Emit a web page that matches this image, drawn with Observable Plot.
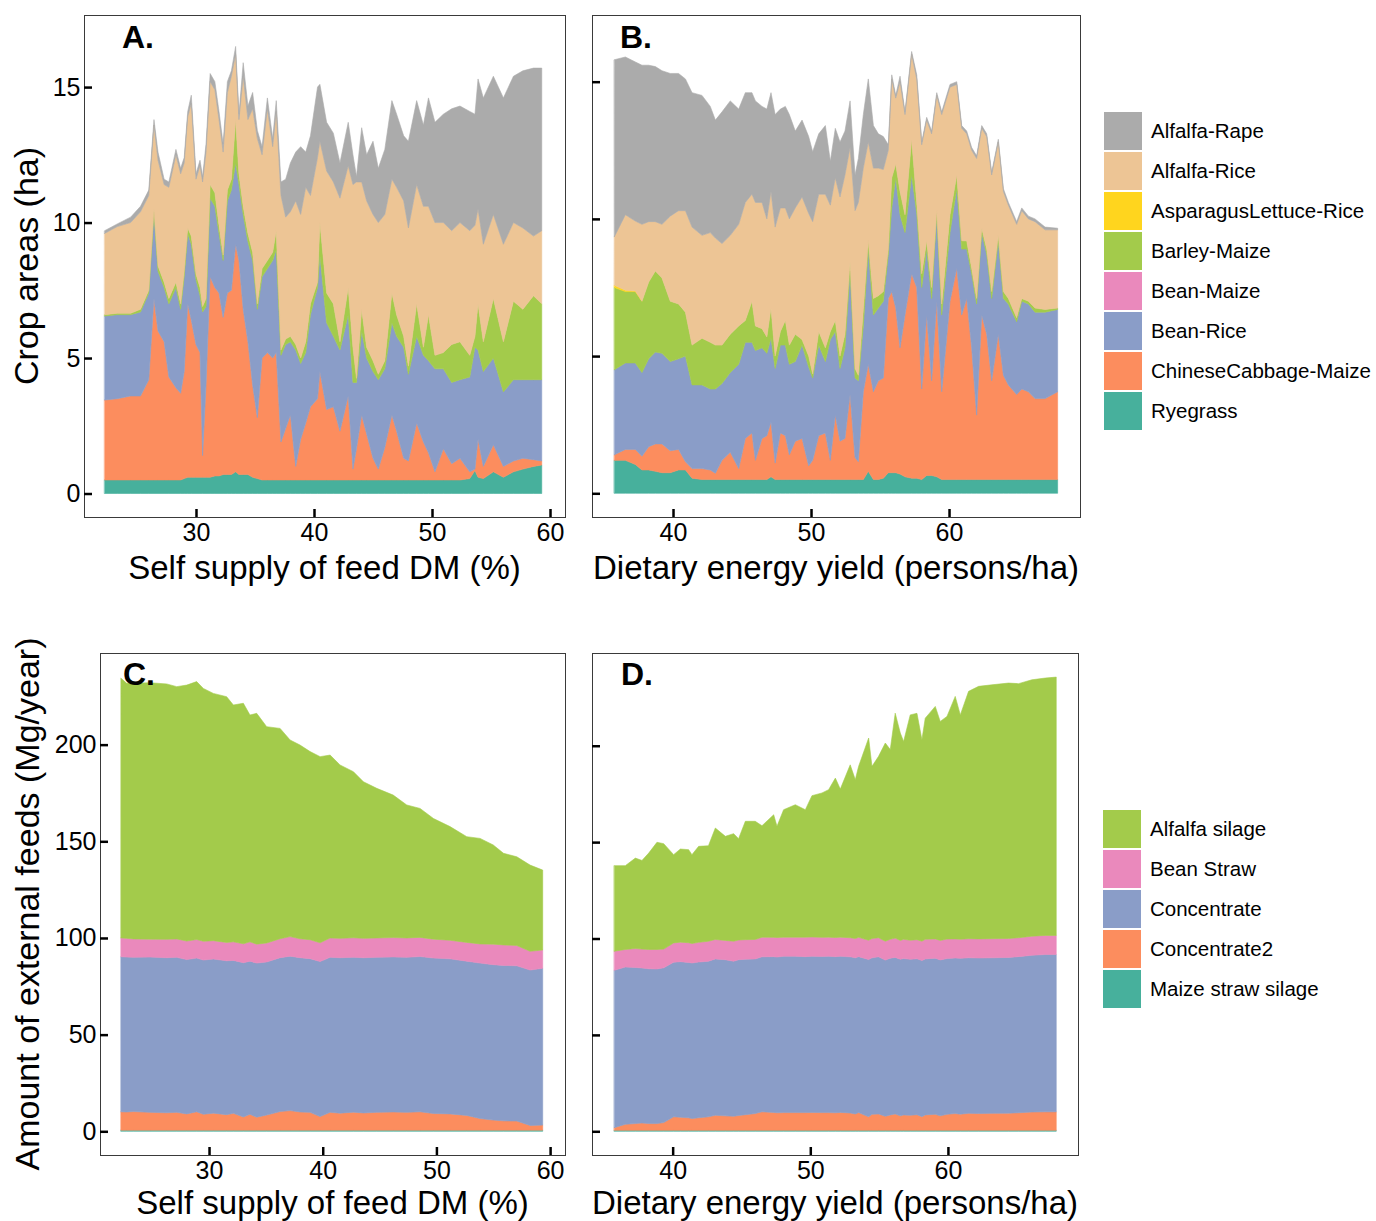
<!DOCTYPE html>
<html><head><meta charset="utf-8">
<script src="https://cdn.jsdelivr.net/npm/d3@7"></script>
<script src="https://cdn.jsdelivr.net/npm/@observablehq/plot@0.6"></script>
<style>
html,body{margin:0;padding:0;background:#fff;overflow:hidden}
#root{position:relative;width:1376px;height:1221px;font-family:"Liberation Sans",Arial,sans-serif;background:#fff}
#root svg{position:absolute;left:0;top:0}
.legend{position:absolute}
.item{display:flex;align-items:center;height:38px;margin-bottom:2px}
.sw{width:38px;height:38px;margin-right:9px;flex:none}
.lab{font-size:20.5px;color:#000;white-space:nowrap}
</style></head><body><div id="root"></div>
<script>
// ---------------- Crop names, colours (legend order) ----------------
const cropNames = ["Alfalfa-Rape","Alfalfa-Rice","AsparagusLettuce-Rice","Barley-Maize","Bean-Maize","Bean-Rice","ChineseCabbage-Maize","Ryegrass"];
const cropColors = ["#ABABAB","#EDC595","#FFD51E","#A3CB4B","#EA89BC","#8A9DC8","#FC8D5E","#47B09C"];
const feedNames = ["Alfalfa silage","Bean Straw","Concentrate","Concentrate2","Maize straw silage"];
const feedColors = ["#A3CB4B","#EA89BC","#8A9DC8","#FC8D5E","#47B09C"];

// ---------------- Panel A: crop areas (ha) vs self supply of feed DM (%) ----------------
const A_x = [22.26,23.33,24.46,25.3,26.0,26.44,26.78,27.3,27.7,28.3,28.7,29.0,29.3,29.6,30.0,30.34,30.56,30.85,31.2,31.6,31.95,32.3,32.66,33.0,33.36,33.64,34.0,34.4,34.8,35.2,35.6,36.05,36.5,36.8,37.2,37.6,38.0,38.45,38.87,39.3,39.7,40.3,40.5,41.07,41.64,42.2,42.9,43.3,43.6,44.04,44.46,45.0,45.45,46.0,46.6,47.0,47.6,48.0,48.7,49.27,49.7,50.25,50.96,51.67,52.37,53.2,53.64,53.9,54.35,55.2,56.05,56.9,57.7,58.6,59.3];
const A_ryegrass = [0.5,0.5,0.5,0.5,0.5,0.5,0.5,0.5,0.5,0.5,0.5,0.55,0.6,0.6,0.6,0.6,0.6,0.6,0.6,0.65,0.65,0.7,0.7,0.7,0.8,0.7,0.7,0.7,0.6,0.55,0.5,0.5,0.5,0.5,0.5,0.5,0.5,0.5,0.5,0.5,0.5,0.5,0.5,0.5,0.5,0.5,0.5,0.5,0.5,0.5,0.5,0.5,0.5,0.5,0.5,0.5,0.5,0.5,0.5,0.5,0.5,0.5,0.5,0.5,0.5,0.55,0.85,0.6,0.55,0.8,0.6,0.8,0.9,1.0,1.05];
const A_cabbage = [2.95,3.0,3.1,3.1,3.7,6.7,5.5,5.1,3.8,3.4,3.2,3.95,6.4,5.8,4.9,4.6,0.8,3.4,7.4,6.95,6.75,5.8,6.7,6.8,8.4,7.9,6.1,4.9,3.4,2.25,4.5,4.7,4.5,4.7,1.4,1.9,2.4,0.5,1.5,2.1,2.7,3.0,4.0,2.6,2.7,1.8,3.1,0.4,1.15,2.4,1.7,0.8,0.4,1.2,2.4,1.8,0.8,0.7,2.1,1.4,1.0,0.3,1.15,0.6,0.8,0.25,0.05,1.4,0.45,1.0,0.4,0.4,0.4,0.25,0.15];
const A_beanRice = [3.1,3.1,3.0,3.1,3.2,3.2,2.2,2.0,2.7,3.7,3.1,3.5,2.6,2.8,2.4,2.1,5.3,2.9,2.9,3.0,2.2,2.1,3.4,3.7,3.0,2.8,3.5,3.7,4.6,4.0,3.0,3.1,3.6,3.8,3.2,3.1,2.7,4.3,2.8,2.6,3.4,4.1,4.3,3.2,2.6,3.0,3.0,3.2,2.45,3.1,2.8,3.2,3.3,2.9,3.4,3.5,4.1,3.2,3.2,3.2,3.4,3.8,2.95,3.0,2.9,3.5,4.5,3.3,3.5,3.2,2.75,3.0,2.9,2.95,3.0];
const A_barley = [0.05,0.05,0.05,0.1,0.1,0.1,0.2,0.2,0.2,0.2,0.2,0.2,0.2,0.3,0.2,0.3,0.2,0.3,0.5,0.5,0.3,0.2,0.4,0.4,1.6,0.4,0.3,0.3,0.3,0.2,0.3,0.3,0.3,0.7,0.2,0.2,0.2,0.2,0.2,0.4,0.4,0.2,1.2,1.1,1.2,0.3,1.0,1.3,0.15,0.8,0.4,0.4,0.2,0.3,1.1,0.8,0.4,0.3,1.2,0.3,1.7,0.5,0.6,1.4,1.4,0.8,0.4,1.7,1.1,2.2,1.85,2.9,2.6,3.1,2.8];
const A_alfRice = [3.0,3.2,3.35,3.6,3.5,3.1,3.9,3.6,4.1,4.7,4.8,4.0,4.1,4.9,3.5,4.5,4.6,5.4,3.8,3.8,3.9,3.8,3.6,3.8,2.4,2.0,4.8,4.2,5.3,6.1,4.2,5.6,3.9,4.4,5.7,4.5,4.6,5.3,5.3,5.7,4.0,4.6,3.0,4.5,4.5,5.3,4.5,6.0,7.25,4.7,5.4,5.4,5.6,5.4,4.2,4.7,5.0,5.1,4.4,5.2,4.0,4.9,4.8,4.2,4.4,4.6,4.1,3.5,3.6,3.1,3.6,2.9,3.0,2.2,2.7];
const A_alfRape = [0.1,0.1,0.2,0.2,0.2,0.2,0.3,0.2,0.2,0.2,0.2,0.2,0.2,0.3,0.2,0.2,0.2,0.3,0.3,0.3,0.3,0.3,0.4,0.2,0.3,0.2,0.5,0.5,0.6,0.3,0.3,0.4,0.3,0.4,0.5,1.4,1.8,1.8,2.5,1.3,2.2,2.6,2.1,1.8,1.8,1.3,1.6,1.1,0.2,2.0,1.7,2.7,2.0,2.4,2.9,2.7,2.4,3.2,3.1,3.0,4.0,3.7,4.0,4.5,4.3,4.4,4.1,4.8,5.4,5.1,5.4,5.4,5.8,6.2,6.0];

// ---------------- Panel B: crop areas (ha) vs dietary energy yield (persons/ha) ----------------
const B_x = [35.75,36.55,37.27,37.75,38.24,38.72,39.2,39.8,40.4,40.9,41.38,42.1,42.7,43.07,43.55,44.15,44.76,45.24,45.72,45.97,46.45,46.8,47.1,47.4,47.78,48.14,48.43,48.86,49.35,49.83,50.12,50.56,51.04,51.4,51.76,52.1,52.46,52.83,53.19,53.43,53.79,54.15,54.52,54.88,55.24,55.6,55.85,56.14,56.45,56.81,57.29,57.66,58.02,58.38,58.74,59.11,59.47,60.07,60.56,60.92,61.28,61.64,62.0,62.37,62.73,63.09,63.57,63.94,64.3,64.9,65.27,65.75,66.23,66.96,67.87];
const B_ryegrass = [1.2,1.2,1.05,0.85,0.85,0.8,0.75,0.75,0.85,0.85,0.55,0.5,0.5,0.5,0.5,0.5,0.5,0.5,0.5,0.5,0.5,0.5,0.6,0.5,0.5,0.5,0.5,0.5,0.5,0.5,0.5,0.5,0.5,0.5,0.5,0.5,0.5,0.5,0.5,0.5,0.5,0.8,0.5,0.5,0.55,0.75,0.75,0.75,0.7,0.6,0.55,0.55,0.5,0.65,0.65,0.6,0.5,0.5,0.5,0.5,0.5,0.5,0.5,0.5,0.5,0.5,0.5,0.5,0.5,0.5,0.5,0.5,0.5,0.5,0.5];
const B_cabbage = [0.2,0.4,0.55,0.5,0.85,1.0,1.05,0.8,0.75,0.3,0.35,0.4,0.35,0.23,0.7,1.0,0.4,1.5,1.7,0.7,1.5,1.6,2.0,0.6,1.7,1.6,0.9,1.4,1.5,0.5,0.7,1.6,1.7,0.7,2.35,1.4,1.5,3.1,0.8,0.65,3.2,3.9,3.2,3.6,3.65,6.35,6.6,6.0,4.6,5.9,7.45,6.95,3.3,5.85,3.45,6.4,3.2,6.5,7.7,6.0,6.6,4.8,2.35,6.0,5.3,3.6,5.3,3.8,3.45,3.1,3.3,3.2,2.95,2.95,3.2];
const B_beanRice = [3.1,3.15,3.15,3.05,3.2,3.35,3.3,3.25,3.3,3.85,3.05,3.05,2.95,3.07,2.8,2.9,3.8,3.5,3.3,4.0,3.3,3.0,3.05,3.45,3.2,3.3,3.3,2.9,3.4,3.6,3.0,3.3,2.6,4.4,3.05,2.65,3.3,4.5,2.9,2.95,2.4,4.2,2.8,2.65,2.8,1.6,3.05,4.75,4.85,3.0,3.6,2.7,3.7,2.4,3.0,3.15,2.8,2.5,2.9,2.4,1.8,2.7,4.05,3.0,2.9,3.0,3.4,2.8,2.95,2.65,3.2,3.2,3.15,3.15,3.0];
const B_barley = [3.0,2.6,2.6,2.6,2.8,2.95,2.75,2.2,2.0,1.6,1.45,1.7,1.7,1.6,1.4,1.4,1.4,0.8,1.5,0.9,0.7,0.6,1.1,0.45,0.5,0.9,0.7,1.0,0.2,0.4,0.15,0.5,0.5,0.3,0.4,0.45,0.5,0.35,0.35,0.2,0.6,0.3,0.6,0.45,0.35,0.2,1.1,0.5,0.85,0.65,1.3,0.4,0.5,0.3,0.4,0.15,0.4,0.65,0.5,0.3,0.3,0.2,0.2,0.16,0.2,0.25,0.2,0.25,0.2,0.15,0.1,0.1,0.15,0.1,0.05];
const B_asparagus_x = [35.75,36.55,37.27,37.75];
const B_asparagus = [0.08,0.05,0.02,0];
const B_alfRice = [1.77,2.75,2.55,2.8,2.2,1.8,1.95,3.1,3.4,3.7,4.3,3.75,4.0,3.9,3.7,3.6,3.7,4.3,3.9,4.5,4.6,4.3,4.25,4.7,4.5,4.1,4.6,4.6,5.2,5.2,5.55,5.0,5.6,4.6,5.2,5.8,5.8,4.15,5.75,6.3,5.15,3.6,4.75,4.65,4.45,3.6,3.6,2.4,4.0,3.65,3.1,4.5,4.7,4.4,5.6,4.2,6.9,4.65,3.3,4.1,3.9,4.3,5.1,3.64,4.1,4.25,3.4,3.65,3.4,3.4,3.2,3.0,3.15,2.9,2.85];
const B_alfRape = [6.45,5.75,5.8,5.8,5.7,5.65,5.6,5.2,5.0,4.8,4.9,5.1,4.6,4.3,4.8,4.9,4.2,4.0,3.7,3.7,3.5,4.0,3.6,4.1,3.6,3.7,3.8,2.8,2.8,2.8,2.55,2.2,2.5,1.6,1.8,2.0,1.6,1.7,1.3,1.6,1.95,2.3,1.55,1.25,1.2,0.2,0.15,0.1,0.2,0.1,0.1,0.15,0.1,0.1,0.1,0.1,0.1,0.1,0.1,0.1,0.1,0.1,0.1,0.1,0.1,0.1,0.1,0.1,0.1,0.1,0.1,0.1,0.1,0.1,0.06];

// ---------------- Panel C: external feeds (Mg/year) vs self supply of feed DM (%) ----------------
const C_x = [22.26,22.76,23.34,24.81,26.28,27.16,28.04,28.91,29.5,30.38,31.55,32.14,33.02,33.6,34.19,35.07,36.25,37.13,38.0,38.89,39.77,40.65,41.52,42.7,43.58,44.75,46.2,47.39,48.56,49.74,51.2,52.67,53.84,55.0,55.9,57.07,58.24,59.35];
const C_maizeStraw = [0.6,0.6,0.6,0.6,0.6,0.6,0.6,0.6,0.6,0.6,0.6,0.6,0.6,0.6,0.6,0.6,0.6,0.6,0.6,0.6,0.6,0.6,0.6,0.6,0.6,0.6,0.6,0.6,0.6,0.6,0.6,0.6,0.6,0.6,0.6,0.6,0.6,0.6];
const C_conc2 = [9.5,9.4,9.6,9.2,9.0,9.2,8.4,9.5,8.2,8.8,8.0,8.7,6.8,8.2,6.7,7.8,9.6,10.1,9.4,9.2,7.0,9.2,8.8,9.3,8.9,9.2,9.4,9.2,9.5,8.6,8.4,7.6,6.0,5.2,4.8,4.7,2.4,2.6];
const C_conc = [80.2,80.1,79.8,80.3,80.2,80.2,79.8,79.5,79.8,79.7,79.6,79.1,79.8,79.2,79.7,79.2,79.6,79.9,79.8,79.5,80.2,80.2,80.4,80.1,80.3,80.2,80.2,80.2,80.3,80.4,80.2,79.8,80.4,80.4,80.4,80.3,80.4,81.1];
const C_beanStraw = [9.7,9.7,9.5,9.3,9.5,9.5,9.6,9.6,9.7,9.5,9.5,9.6,9.8,10.0,9.8,9.8,9.8,10.1,9.8,9.8,9.7,10.0,10.0,10.1,10.0,10.0,10.0,10.0,9.9,9.8,9.6,9.7,9.9,10.6,10.6,10.5,9.7,9.5];
const C_alfSilage = [134.3,131.9,132.3,132.6,132.1,130.5,132.4,133.4,130.8,127.9,127.1,122.5,124.4,117.3,119.4,111.9,108.8,101.7,100.2,97.3,96.3,94.6,89.7,85.9,81.0,77.4,73.7,68.8,66.7,62.4,58.8,54.7,54.6,51.3,47.4,45.9,44.6,41.3];

// ---------------- Panel D: external feeds (Mg/year) vs dietary energy yield (persons/ha) ----------------
const D_x = [35.76,36.56,37.29,37.77,38.26,38.86,39.35,40.07,40.56,41.16,41.4,41.89,42.6,43.1,43.83,44.43,44.79,45.28,46.0,46.49,47.34,47.58,48.06,48.91,49.64,50.12,50.85,51.33,51.82,52.18,52.9,53.27,53.51,54.24,54.48,54.96,55.45,55.81,56.17,56.54,56.78,57.26,57.75,58.11,58.35,59.08,59.44,59.93,60.53,60.9,61.5,62.23,63.2,64.4,65.13,66.1,67.07,67.87];
const D_maizeStraw = [0.5,0.5,0.5,0.5,0.5,0.5,0.5,0.5,0.5,0.5,0.5,0.5,0.5,0.5,0.5,0.5,0.5,0.5,0.5,0.5,0.5,0.5,0.5,0.5,0.5,0.5,0.5,0.5,0.5,0.5,0.5,0.5,0.5,0.5,0.5,0.5,0.5,0.5,0.5,0.5,0.5,0.5,0.5,0.5,0.5,0.5,0.5,0.5,0.5,0.5,0.5,0.5,0.5,0.5,0.5,0.5,0.5,0.5];
const D_conc2 = [1.4,3.1,3.5,3.8,3.5,3.5,4.0,7.0,6.8,6.5,6.1,6.5,7.0,7.8,7.5,7.3,7.7,8.1,8.7,9.6,9.3,9.1,9.2,9.2,9.2,9.3,9.2,9.2,9.1,9.3,9.0,8.5,9.2,7.0,8.3,8.5,7.3,8.0,8.5,7.5,8.0,7.8,8.1,7.1,8.0,8.3,7.5,8.3,8.7,8.4,8.8,8.7,8.8,8.9,9.1,9.5,9.6,9.6];
const D_conc = [81.6,81.6,81.0,80.4,80.3,80.2,80.3,80.2,80.7,80.6,80.7,80.8,80.7,81.1,81.0,80.4,80.8,80.7,80.2,80.4,80.8,80.8,81.1,81.1,80.9,81.0,81.0,81.1,81.0,81.0,81.0,81.0,80.9,81.6,81.2,81.5,81.0,81.3,81.2,81.2,81.1,80.9,80.9,81.0,80.9,81.0,80.9,80.8,80.7,80.8,80.7,80.7,80.7,80.8,81.0,81.3,81.6,81.6];
const D_beanStraw = [9.9,9.1,9.8,9.8,10.0,10.1,9.7,10.0,10.1,10.2,10.1,10.2,10.4,10.1,10.0,10.4,10.2,10.1,10.1,10.2,10.0,10.1,9.9,9.9,10.1,10.0,9.9,9.9,9.9,9.9,9.9,10.0,10.0,10.0,10.0,9.9,9.8,9.8,10.0,9.8,10.0,9.9,9.9,10.0,10.2,10.0,10.1,10.1,9.9,9.9,9.9,9.9,9.9,9.8,9.8,9.9,9.9,9.9];
const D_alfSilage = [44.4,43.5,46.9,46.0,50.0,55.6,54.7,45.8,48.3,48.3,46.1,49.8,49.5,57.8,54.0,55.8,52.6,61.4,61.3,57.8,63.6,57.7,66.1,68.7,66.1,73.3,74.9,76.5,82.7,76.8,89.7,82.4,88.7,104.9,89.3,94.1,102.8,98.4,116.7,107.6,102.6,116.9,117.4,104.5,114.7,120.6,113.6,115.5,125.8,116.4,128.3,131.0,131.7,132.5,131.8,133.0,133.5,134.0];

// ---------------- Tick values and labels ----------------
const ticksSelfSupply = [30,40,50,60];
const ticksEnergy = [40,50,60];
const ticksCrop = [0,5,10,15];
const ticksFeed = [0,50,100,150,200];
const titleSelf = "Self supply of feed DM (%)";
const titleEnergy = "Dietary energy yield (persons/ha)";
const titleCrop = "Crop areas (ha)";
const titleFeed = "Amount of external feeds (Mg/year)";

// stacking order bottom -> top (reverse of legend order)
const cropStack = cropNames.slice().reverse();
const feedStack = feedNames.slice().reverse();

function table(list) {
  const out = [];
  for (const [name, xs, vals] of list) vals.forEach((v, i) => out.push({x: xs[i], k: name, v}));
  return out;
}

const FONT = '"Liberation Sans", Arial, Helvetica, sans-serif';
const W = 1376, H = 1221;

function panel({data, order, names, colors, frame, xDomain, yDomain, xTicks, yTicks, yLabels}) {
  const [l, t, r, b] = frame;
  return Plot.plot({
    width: W, height: H,
    marginLeft: l, marginTop: t, marginRight: W - r, marginBottom: H - b,
    style: {background: "transparent", fontFamily: FONT, fontSize: "25px", color: "#000", overflow: "visible"},
    x: {domain: xDomain},
    y: {domain: yDomain},
    color: {domain: names, range: colors},
    marks: [
      Plot.areaY(data, {x: "x", y: "v", fill: "k", stroke: "k", strokeWidth: 0.6, order}),
      Plot.frame({stroke: "#3a3a3a", strokeWidth: 1}),
      Plot.axisX({ticks: xTicks, tickSize: -8, tickPadding: 14, strokeWidth: 2.5, label: null, tickFormat: d => String(d)}),
      Plot.axisY({ticks: yTicks, tickSize: -8, tickPadding: 12, strokeWidth: 2.5, label: null, tickFormat: yLabels ? (d => String(d)) : (() => "")})
    ]
  });
}

const root = document.getElementById("root");

const dataA = table([
  ["Ryegrass", A_x, A_ryegrass], ["ChineseCabbage-Maize", A_x, A_cabbage], ["Bean-Rice", A_x, A_beanRice],
  ["Barley-Maize", A_x, A_barley], ["Alfalfa-Rice", A_x, A_alfRice], ["Alfalfa-Rape", A_x, A_alfRape]
]);
const dataB = table([
  ["Ryegrass", B_x, B_ryegrass], ["ChineseCabbage-Maize", B_x, B_cabbage], ["Bean-Rice", B_x, B_beanRice],
  ["Barley-Maize", B_x, B_barley], ["AsparagusLettuce-Rice", B_asparagus_x, B_asparagus],
  ["Alfalfa-Rice", B_x, B_alfRice], ["Alfalfa-Rape", B_x, B_alfRape]
]);
const dataC = table([
  ["Maize straw silage", C_x, C_maizeStraw], ["Concentrate2", C_x, C_conc2], ["Concentrate", C_x, C_conc],
  ["Bean Straw", C_x, C_beanStraw], ["Alfalfa silage", C_x, C_alfSilage]
]);
const dataD = table([
  ["Maize straw silage", D_x, D_maizeStraw], ["Concentrate2", D_x, D_conc2], ["Concentrate", D_x, D_conc],
  ["Bean Straw", D_x, D_beanStraw], ["Alfalfa silage", D_x, D_alfSilage]
]);

root.append(panel({data: dataA, order: cropStack, names: cropNames, colors: cropColors, frame: [84, 15, 565, 517],
  xDomain: [20.51, 61.27], yDomain: [-0.867, 17.66], xTicks: ticksSelfSupply, yTicks: ticksCrop, yLabels: true}));
root.append(panel({data: dataB, order: cropStack, names: cropNames, colors: cropColors, frame: [592, 15, 1080, 517],
  xDomain: [34.13, 69.49], yDomain: [-0.864, 17.43], xTicks: ticksEnergy, yTicks: ticksCrop, yLabels: false}));
root.append(panel({data: dataC, order: feedStack, names: feedNames, colors: feedColors, frame: [100, 653, 565, 1155],
  xDomain: [20.41, 61.31], yDomain: [-12.26, 247.4], xTicks: ticksSelfSupply, yTicks: ticksFeed, yLabels: true}));
root.append(panel({data: dataD, order: feedStack, names: feedNames, colors: feedColors, frame: [592, 653, 1078, 1155],
  xDomain: [34.14, 69.45], yDomain: [-12.3, 248.1], xTicks: ticksEnergy, yTicks: ticksFeed, yLabels: false}));

// ---------------- Titles and panel letters ----------------
const ov = d3.select(root).append("svg").attr("width", W).attr("height", H)
  .style("font-family", FONT).style("pointer-events", "none");
function label(x, y, s, size, opts = {}) {
  const t = ov.append("text").attr("x", x).attr("y", y).attr("font-size", size).attr("fill", "#000").text(s);
  if (opts.anchor) t.attr("text-anchor", opts.anchor);
  if (opts.bold) t.attr("font-weight", "bold");
  if (opts.rotate) t.attr("transform", `rotate(-90 ${x} ${y})`);
  return t;
}
label(122, 48, "A.", 32, {bold: true});
label(620, 48, "B.", 32, {bold: true});
label(123, 685, "C.", 32, {bold: true});
label(621, 685, "D.", 32, {bold: true});
label(324.5, 579, titleSelf, 33, {anchor: "middle"});
label(836, 579, titleEnergy, 33, {anchor: "middle"});
label(332.5, 1214, titleSelf, 33, {anchor: "middle"});
label(835, 1214, titleEnergy, 33, {anchor: "middle"});
label(38, 266, titleCrop, 34, {anchor: "middle", rotate: true});
label(39, 904, titleFeed, 34, {anchor: "middle", rotate: true});

// ---------------- Legends ----------------
function legend(names, colors, left, top) {
  const div = document.createElement("div");
  div.className = "legend";
  div.style.left = left + "px";
  div.style.top = top + "px";
  names.forEach((n, i) => {
    const it = document.createElement("div"); it.className = "item";
    const sw = document.createElement("div"); sw.className = "sw"; sw.style.background = colors[i];
    const lb = document.createElement("div"); lb.className = "lab"; lb.textContent = n;
    it.append(sw, lb); div.append(it);
  });
  root.append(div);
}
legend(cropNames, cropColors, 1104, 112);
legend(feedNames, feedColors, 1103, 810);
</script></body></html>
